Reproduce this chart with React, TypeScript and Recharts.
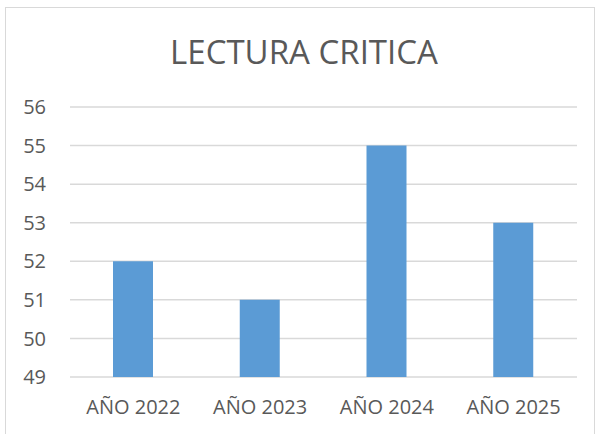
import { BarChart, Bar, XAxis, YAxis, CartesianGrid } from 'recharts'

const years = ['AÑO 2022', 'AÑO 2023', 'AÑO 2024', 'AÑO 2025']
const scores = [52, 51, 55, 53]
const yTicks = [49, 50, 51, 52, 53, 54, 55, 56]

const data = years.map((name, i) => ({ name, value: scores[i] }))

const font = '"Open Sans", "Liberation Sans", sans-serif'

export default function App() {
  return (
    <div style={{ position: 'absolute', left: 0, top: 0, width: 600, height: 434, background: '#fff', overflow: 'hidden' }}>
      <div
        style={{
          position: 'absolute',
          left: 5,
          top: 7,
          width: 590,
          height: 440,
          border: '1.5px solid #d9d9d9',
          boxSizing: 'border-box'
        }}
      />
      <div
        style={{
          position: 'absolute',
          left: 4,
          top: 30,
          width: 600,
          textAlign: 'center',
          fontFamily: font,
          fontSize: 33,
          color: '#595959',
          lineHeight: '44px'
        }}
      >
        LECTURA CRITICA
      </div>
      <div style={{ position: 'absolute', left: 0, top: 0 }}>
        <BarChart
          width={600}
          height={434}
          data={data}
          margin={{ top: 107, right: 23, bottom: 0, left: 0 }}
        >
          <CartesianGrid vertical={false} stroke="#d9d9d9" strokeWidth={1.5} />
          <XAxis
            dataKey="name"
            axisLine={false}
            tickLine={false}
            tickMargin={17}
            height={57}
            tick={{ fill: '#595959', fontSize: 20, fontFamily: font }}
          />
          <YAxis
            domain={[49, 56]}
            ticks={yTicks}
            width={70}
            axisLine={false}
            tickLine={false}
            tickMargin={18}
            tick={{ fill: '#595959', fontSize: 20, fontFamily: font }}
          />
          <Bar dataKey="value" fill="#5b9bd5" barSize={40} isAnimationActive={false} />
        </BarChart>
      </div>
    </div>
  )
}
